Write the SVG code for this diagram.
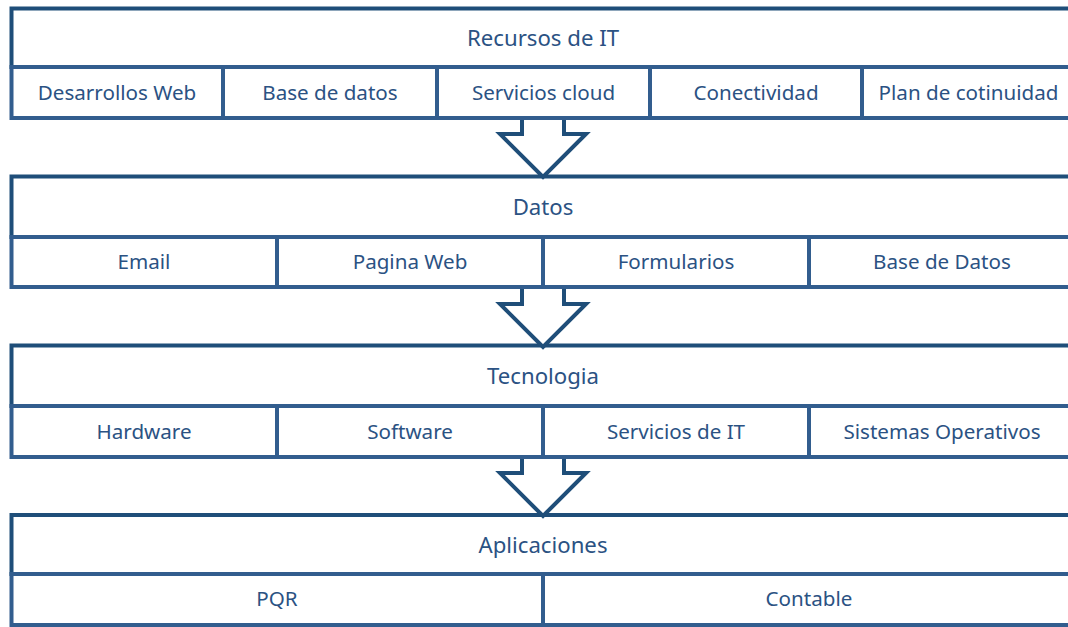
<svg xmlns="http://www.w3.org/2000/svg" width="1068" height="627" viewBox="0 0 1068 627">
<style>
.bg{fill:#ffffff}
.hdr{fill:#ffffff;stroke:#1F4E79;stroke-width:4}
.cell{fill:#ffffff;stroke:#325D8E;stroke-width:4}
.ht{font-family:"Noto Sans","Open Sans",sans-serif;font-size:22.2px;fill:#2B5283;text-anchor:middle}
.ct{font-family:"Noto Sans","Open Sans",sans-serif;font-size:20.6px;fill:#2B5283;text-anchor:middle}
.arrow{fill:#ffffff;stroke:#1F4E79;stroke-width:4;stroke-linejoin:miter}
</style>
<rect class="bg" x="0" y="0" width="1068" height="627"/>
<g id="recursos">
<rect class="hdr" x="11.5" y="8.5" width="1070" height="58.5"/>
<text class="ht" x="543" y="46">Recursos de IT</text>
<rect class="cell" x="11.5" y="67" width="211.5" height="51"/>
<rect class="cell" x="223" y="67" width="214" height="51"/>
<rect class="cell" x="437" y="67" width="213" height="51"/>
<rect class="cell" x="650" y="67" width="212" height="51"/>
<rect class="cell" x="862" y="67" width="220" height="51"/>
<text class="ct" x="117" y="100">Desarrollos Web</text>
<text class="ct" x="330" y="100">Base de datos</text>
<text class="ct" x="543.5" y="100">Servicios cloud</text>
<text class="ct" x="756" y="100">Conectividad</text>
<text class="ct" x="968.5" y="100">Plan de cotinuidad</text>
</g>
<g id="datos">
<rect class="hdr" x="11.5" y="176.5" width="1070" height="60.5"/>
<text class="ht" x="543" y="215">Datos</text>
<rect class="cell" x="11.5" y="237" width="265.5" height="50"/>
<rect class="cell" x="277" y="237" width="266" height="50"/>
<rect class="cell" x="543" y="237" width="266" height="50"/>
<rect class="cell" x="809" y="237" width="273" height="50"/>
<text class="ct" x="144" y="269">Email</text>
<text class="ct" x="410" y="269">Pagina Web</text>
<text class="ct" x="676" y="269">Formularios</text>
<text class="ct" x="942" y="269">Base de Datos</text>
</g>
<g id="tecnologia">
<rect class="hdr" x="11.5" y="345.5" width="1070" height="60.5"/>
<text class="ht" x="543" y="384">Tecnologia</text>
<rect class="cell" x="11.5" y="406" width="265.5" height="51"/>
<rect class="cell" x="277" y="406" width="266" height="51"/>
<rect class="cell" x="543" y="406" width="266" height="51"/>
<rect class="cell" x="809" y="406" width="273" height="51"/>
<text class="ct" x="144" y="439">Hardware</text>
<text class="ct" x="410" y="439">Software</text>
<text class="ct" x="676" y="439">Servicios de IT</text>
<text class="ct" x="942" y="439">Sistemas Operativos</text>
</g>
<g id="aplicaciones">
<rect class="hdr" x="11.5" y="515" width="1070" height="59"/>
<text class="ht" x="543" y="553">Aplicaciones</text>
<rect class="cell" x="11.5" y="574" width="531.5" height="51"/>
<rect class="cell" x="543" y="574" width="539" height="51"/>
<text class="ct" x="277" y="606">PQR</text>
<text class="ct" x="809" y="606">Contable</text>
</g>
<g id="connectors">
<path class="arrow" d="M522,120 V134 H500 L543,177 L586,134 H564 V120"/>
<path class="arrow" d="M522,289 V304 H500 L543,347 L586,304 H564 V289"/>
<path class="arrow" d="M522,459 V473 H500 L543,516 L586,473 H564 V459"/>
</g>
</svg>
